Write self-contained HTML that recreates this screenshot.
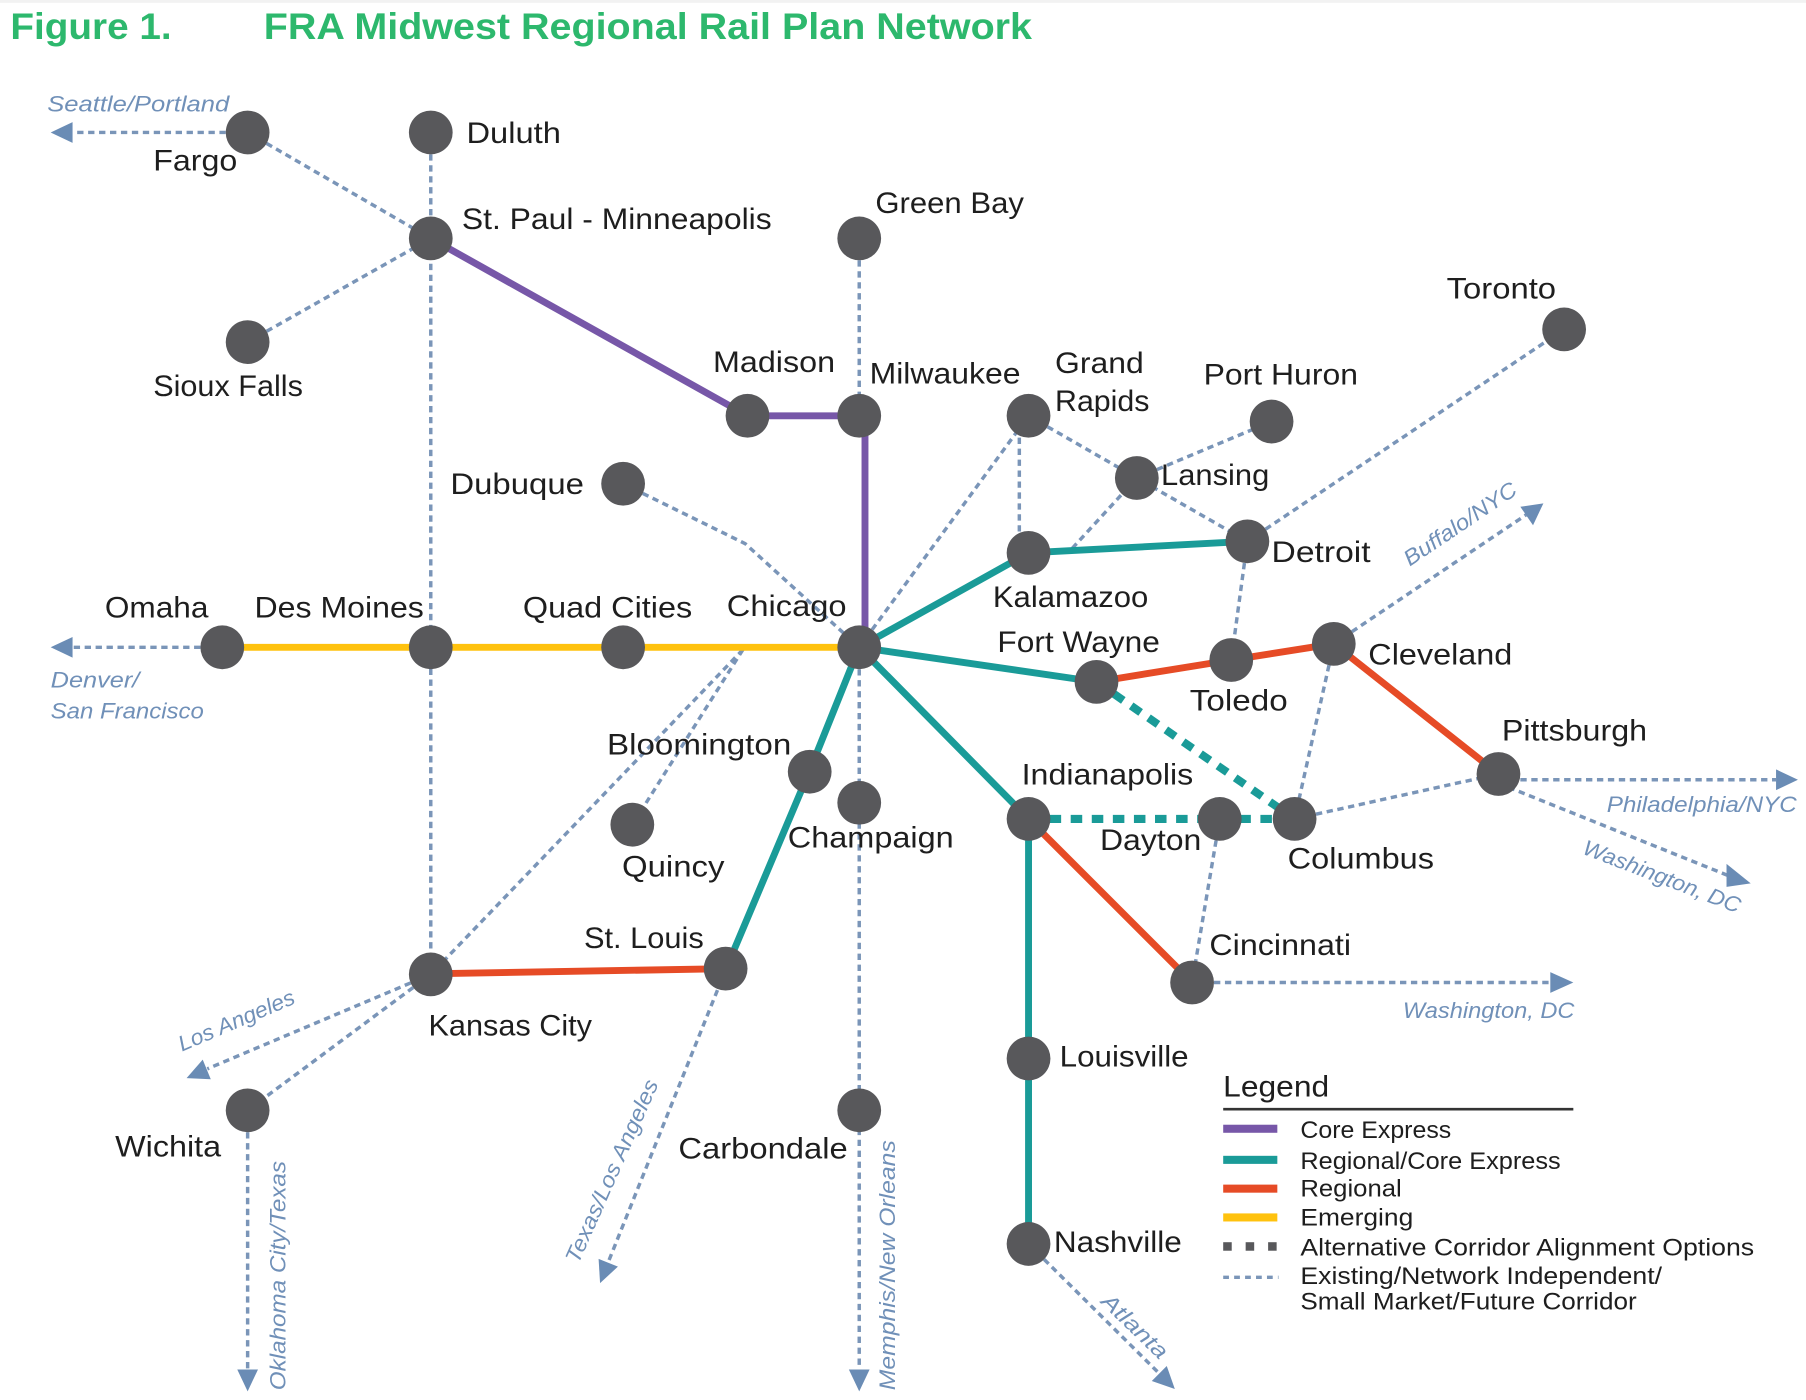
<!DOCTYPE html>
<html>
<head>
<meta charset="utf-8">
<style>
  html,body{margin:0;padding:0;background:#ffffff;}
  svg{display:block;}
  .d{stroke:#7a95b8;stroke-width:3;stroke-dasharray:5.5 4;fill:none;}
  .s{fill:none;stroke-width:6;stroke-linejoin:round;stroke-linecap:butt;}
  .t{font-family:"Liberation Sans",Arial,sans-serif;font-size:26px;fill:#1e1e1e;}
  .b{font-family:"Liberation Sans",Arial,sans-serif;font-style:italic;font-size:19px;fill:#7090b8;}
  .l{font-family:"Liberation Sans",Arial,sans-serif;font-size:21px;fill:#1e1e1e;}
  .h{font-family:"Liberation Sans",Arial,sans-serif;font-weight:bold;font-size:32px;fill:#2db86d;}
</style>
</head>
<body>
<svg width="1806" height="1400" viewBox="0 0 1568 1215.5" xmlns="http://www.w3.org/2000/svg">
  <rect x="0" y="0" width="1568" height="1215.5" fill="#ffffff"/>
  <rect x="0" y="0" width="1568" height="2.5" fill="#f2f2f2"/>

  <!-- Title -->
  <text class="h" x="9" y="34" textLength="140" lengthAdjust="spacingAndGlyphs">Figure 1.</text>
  <text class="h" x="229" y="34" textLength="667" lengthAdjust="spacingAndGlyphs">FRA Midwest Regional Rail Plan Network</text>

  <!-- Thin dashed corridors -->
  <g class="d">
    <path d="M215,115 L374,207"/>
    <path d="M215,297 L374,207"/>
    <path d="M374,115 L374,846"/>
    <path d="M746,207 L746,361"/>
    <path d="M541,420 L647,472 L746,562"/>
    <path d="M746,562 L893,361"/>
    <path d="M885,361 L885,479"/>
    <path d="M893,361 L987,415 L1083,470"/>
    <path d="M987,415 L1104,366"/>
    <path d="M931,476 L987,415"/>
    <path d="M1083,470 L1358,286"/>
    <path d="M1083,470 L1069,573"/>
    <path d="M1158,559 L1325,447"/>
    <path d="M1158,559 L1124,711"/>
    <path d="M1124,711 L1301,672"/>
    <path d="M1059,711 L1035,853"/>
    <path d="M645,564 L549,716"/>
    <path d="M645,564 L374,846"/>
    <path d="M746,562 L746,1190"/>
    <path d="M374,846 L180,928"/>
    <path d="M374,846 L215,964"/>
    <path d="M215,964 L215,1190"/>
    <path d="M630,842 L528,1096"/>
    <path d="M1301,677 L1542,677"/>
    <path d="M1301,680 L1500,760"/>
    <path d="M1035,853 L1346,853"/>
    <path d="M893,1080 L1006,1192"/>
    <path d="M215,115 L63,115"/>
    <path d="M193,562 L63,562"/>
  </g>

  <!-- Arrowheads -->
  <g fill="#6a8cb5">
    <polygon points="44,115 63,106 63,124"/>
    <polygon points="44,562 63,553 63,571"/>
    <polygon points="1320,440 1340,437 1331,456"/>
    <polygon points="1561,677 1542,668 1542,686"/>
    <polygon points="1499,750 1520,767 1499,770"/>
    <polygon points="1366,853 1346,844 1346,862"/>
    <polygon points="1020,1206 1000,1199 1013,1186"/>
    <polygon points="746,1208 737,1189 755,1189"/>
    <polygon points="215,1208 206,1189 224,1189"/>
    <polygon points="521,1114 519.7,1093 536.5,1099.7"/>
    <polygon points="162,936 176,920 183,937"/>
  </g>

  <!-- Solid corridors -->
  <path class="s" stroke="#ffc20e" d="M193,562 L746,562"/>
  <path class="s" stroke="#7757a8" d="M374,207 L649,361 L751,361 L751,562"/>
  <g class="s" stroke="#1a9b98">
    <path d="M746,562 L893,480 L1083,470"/>
    <path d="M746,562 L952,592"/>
    <path d="M746,562 L703,669 L630,842"/>
    <path d="M746,562 L893,711 L893,1080"/>
  </g>
  <g class="s" stroke="#e64b26">
    <path d="M952,592 L1069,573 L1158,559 L1301,672"/>
    <path d="M893,711 L1035,853"/>
    <path d="M374,845.5 L630,841"/>
  </g>

  <!-- Alternative alignment (thick teal dashed) -->
  <g fill="none" stroke="#1a9b98" stroke-width="7" stroke-dasharray="10 8.3">
    <path d="M952,592 L1124,711"/>
    <path d="M893,711 L1124,711"/>
  </g>

  <!-- Nodes -->
  <g fill="#58585b">
    <circle cx="215" cy="115" r="19"/>
    <circle cx="374" cy="115" r="19"/>
    <circle cx="374" cy="207" r="19"/>
    <circle cx="215" cy="297" r="19"/>
    <circle cx="746" cy="207" r="19"/>
    <circle cx="649" cy="361" r="19"/>
    <circle cx="746" cy="361" r="19"/>
    <circle cx="541" cy="420" r="19"/>
    <circle cx="893" cy="361" r="19"/>
    <circle cx="1104" cy="366" r="19"/>
    <circle cx="1358" cy="286" r="19"/>
    <circle cx="987" cy="415" r="19"/>
    <circle cx="1083" cy="470" r="19"/>
    <circle cx="893" cy="480" r="19"/>
    <circle cx="193" cy="562" r="19"/>
    <circle cx="374" cy="562" r="19"/>
    <circle cx="541" cy="562" r="19"/>
    <circle cx="746" cy="562" r="19"/>
    <circle cx="952" cy="592" r="19"/>
    <circle cx="1069" cy="573" r="19"/>
    <circle cx="1158" cy="559" r="19"/>
    <circle cx="1301" cy="672" r="19"/>
    <circle cx="703" cy="670" r="19"/>
    <circle cx="746" cy="697" r="19"/>
    <circle cx="549" cy="716" r="19"/>
    <circle cx="893" cy="711" r="19"/>
    <circle cx="1059" cy="711" r="19"/>
    <circle cx="1124" cy="711" r="19"/>
    <circle cx="1035" cy="853" r="19"/>
    <circle cx="630" cy="841" r="19"/>
    <circle cx="374" cy="846" r="19"/>
    <circle cx="215" cy="964" r="19"/>
    <circle cx="746" cy="964" r="19"/>
    <circle cx="893" cy="919" r="19"/>
    <circle cx="893" cy="1080" r="19"/>
  </g>

  <!-- City labels -->
  <g class="t">
    <text x="405" y="124" textLength="82" lengthAdjust="spacingAndGlyphs">Duluth</text>
    <text x="133" y="148" textLength="73" lengthAdjust="spacingAndGlyphs">Fargo</text>
    <text x="401" y="199" textLength="269" lengthAdjust="spacingAndGlyphs">St. Paul - Minneapolis</text>
    <text x="133" y="344" textLength="130" lengthAdjust="spacingAndGlyphs">Sioux Falls</text>
    <text x="760" y="185" textLength="129" lengthAdjust="spacingAndGlyphs">Green Bay</text>
    <text x="619" y="323" textLength="106" lengthAdjust="spacingAndGlyphs">Madison</text>
    <text x="755" y="333" textLength="131" lengthAdjust="spacingAndGlyphs">Milwaukee</text>
    <text x="916" y="324" textLength="77" lengthAdjust="spacingAndGlyphs">Grand</text>
    <text x="916" y="357" textLength="82" lengthAdjust="spacingAndGlyphs">Rapids</text>
    <text x="1045" y="334" textLength="134" lengthAdjust="spacingAndGlyphs">Port Huron</text>
    <text x="1256" y="259" textLength="95" lengthAdjust="spacingAndGlyphs">Toronto</text>
    <text x="1008" y="421" textLength="94" lengthAdjust="spacingAndGlyphs">Lansing</text>
    <text x="1104" y="488" textLength="86" lengthAdjust="spacingAndGlyphs">Detroit</text>
    <text x="391" y="429" textLength="116" lengthAdjust="spacingAndGlyphs">Dubuque</text>
    <text x="862" y="527" textLength="135" lengthAdjust="spacingAndGlyphs">Kalamazoo</text>
    <text x="91" y="536" textLength="90" lengthAdjust="spacingAndGlyphs">Omaha</text>
    <text x="221" y="536" textLength="147" lengthAdjust="spacingAndGlyphs">Des Moines</text>
    <text x="454" y="536" textLength="147" lengthAdjust="spacingAndGlyphs">Quad Cities</text>
    <text x="631" y="535" textLength="104" lengthAdjust="spacingAndGlyphs">Chicago</text>
    <text x="866" y="566" textLength="141" lengthAdjust="spacingAndGlyphs">Fort Wayne</text>
    <text x="1033" y="617" textLength="85" lengthAdjust="spacingAndGlyphs">Toledo</text>
    <text x="1188" y="577" textLength="125" lengthAdjust="spacingAndGlyphs">Cleveland</text>
    <text x="1304" y="643" textLength="126" lengthAdjust="spacingAndGlyphs">Pittsburgh</text>
    <text x="527" y="655" textLength="160" lengthAdjust="spacingAndGlyphs">Bloomington</text>
    <text x="684" y="736" textLength="144" lengthAdjust="spacingAndGlyphs">Champaign</text>
    <text x="540" y="761" textLength="89" lengthAdjust="spacingAndGlyphs">Quincy</text>
    <text x="887" y="681" textLength="149" lengthAdjust="spacingAndGlyphs">Indianapolis</text>
    <text x="955" y="738" textLength="88" lengthAdjust="spacingAndGlyphs">Dayton</text>
    <text x="1118" y="754" textLength="127" lengthAdjust="spacingAndGlyphs">Columbus</text>
    <text x="1050" y="829" textLength="123" lengthAdjust="spacingAndGlyphs">Cincinnati</text>
    <text x="507" y="823" textLength="104" lengthAdjust="spacingAndGlyphs">St. Louis</text>
    <text x="372" y="899" textLength="142" lengthAdjust="spacingAndGlyphs">Kansas City</text>
    <text x="100" y="1004" textLength="92" lengthAdjust="spacingAndGlyphs">Wichita</text>
    <text x="589" y="1006" textLength="147" lengthAdjust="spacingAndGlyphs">Carbondale</text>
    <text x="920" y="926" textLength="112" lengthAdjust="spacingAndGlyphs">Louisville</text>
    <text x="915" y="1087" textLength="111" lengthAdjust="spacingAndGlyphs">Nashville</text>
  </g>

  <!-- Destination labels -->
  <g class="b">
    <text x="41" y="97" textLength="158" lengthAdjust="spacingAndGlyphs">Seattle/Portland</text>
    <text x="44" y="597" textLength="77" lengthAdjust="spacingAndGlyphs">Denver/</text>
    <text x="44" y="624" textLength="133" lengthAdjust="spacingAndGlyphs">San Francisco</text>
    <text x="1395" y="705" textLength="165" lengthAdjust="spacingAndGlyphs">Philadelphia/NYC</text>
    <text x="1218" y="884" textLength="149" lengthAdjust="spacingAndGlyphs">Washington, DC</text>
    <text transform="translate(1224,492) rotate(-34)" textLength="114" lengthAdjust="spacingAndGlyphs">Buffalo/NYC</text>
    <text transform="translate(1373,741) rotate(21)" textLength="145" lengthAdjust="spacingAndGlyphs">Washington, DC</text>
    <text transform="translate(955,1131) rotate(44)" textLength="72" lengthAdjust="spacingAndGlyphs">Atlanta</text>
    <text transform="translate(158,913) rotate(-23)" textLength="108" lengthAdjust="spacingAndGlyphs">Los Angeles</text>
    <text transform="translate(502,1098) rotate(-66)" textLength="172" lengthAdjust="spacingAndGlyphs">Texas/Los Angeles</text>
    <text transform="translate(248,1207) rotate(-90)" textLength="199" lengthAdjust="spacingAndGlyphs">Oklahoma City/Texas</text>
    <text transform="translate(777,1207) rotate(-90)" textLength="217" lengthAdjust="spacingAndGlyphs">Memphis/New Orleans</text>
  </g>

  <!-- Legend -->
  <text class="t" x="1062" y="952" textLength="92" lengthAdjust="spacingAndGlyphs">Legend</text>
  <line x1="1062" y1="963" x2="1366" y2="963" stroke="#333333" stroke-width="2.3"/>
  <rect x="1062" y="976.5" width="47" height="7" fill="#7757a8"/>
  <rect x="1062" y="1003.5" width="47" height="7" fill="#1a9b98"/>
  <rect x="1062" y="1028.5" width="47" height="7" fill="#e64b26"/>
  <rect x="1062" y="1053.5" width="47" height="7" fill="#ffc20e"/>
  <rect x="1062" y="1078.5" width="7.4" height="7.4" fill="#58585b"/>
  <rect x="1081.5" y="1078.5" width="7.4" height="7.4" fill="#58585b"/>
  <rect x="1101" y="1078.5" width="7.4" height="7.4" fill="#58585b"/>
  <line x1="1062" y1="1109" x2="1110" y2="1109" stroke="#7a95b8" stroke-width="3" stroke-dasharray="5 4.5"/>
  <g class="l">
    <text x="1129" y="988" textLength="131" lengthAdjust="spacingAndGlyphs">Core Express</text>
    <text x="1129" y="1015" textLength="226" lengthAdjust="spacingAndGlyphs">Regional/Core Express</text>
    <text x="1129" y="1039" textLength="88" lengthAdjust="spacingAndGlyphs">Regional</text>
    <text x="1129" y="1064" textLength="98" lengthAdjust="spacingAndGlyphs">Emerging</text>
    <text x="1129" y="1090" textLength="394" lengthAdjust="spacingAndGlyphs">Alternative Corridor Alignment Options</text>
    <text x="1129" y="1115" textLength="314" lengthAdjust="spacingAndGlyphs">Existing/Network Independent/</text>
    <text x="1129" y="1137" textLength="292" lengthAdjust="spacingAndGlyphs">Small Market/Future Corridor</text>
  </g>
</svg>
</body>
</html>
